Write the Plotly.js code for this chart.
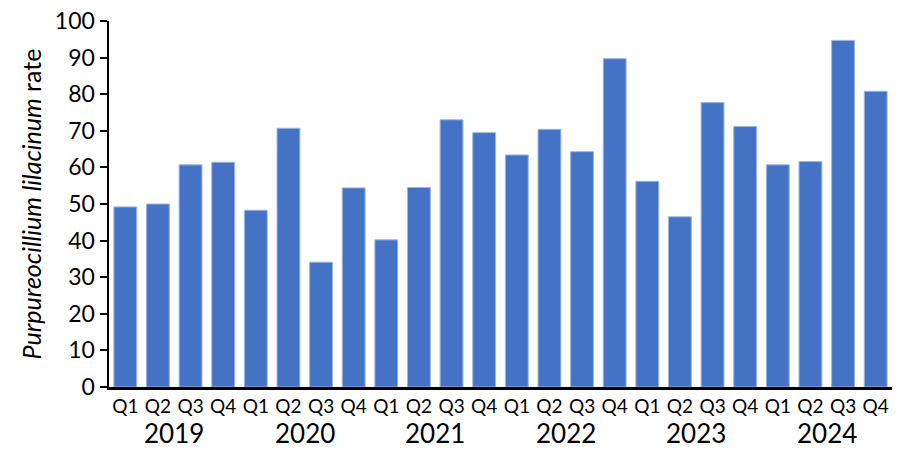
<!DOCTYPE html>
<html>
<head>
<meta charset="utf-8">
<script src="https://cdn.plot.ly/plotly-3.0.1.min.js"></script>
<style>
  html, body { margin: 0; padding: 0; background: #fff; }
  #chart { width: 900px; height: 455px; }
</style>
</head>
<body>
<div id="chart"></div>
<script>
var years = ['2019', '2020', '2021', '2022', '2023', '2024'];
var quarters = ['Q1', 'Q2', 'Q3', 'Q4'];
var rates = [
  49.2, 50.0, 60.7, 61.4,
  48.3, 70.7, 34.1, 54.4,
  40.2, 54.5, 73.0, 69.5,
  63.4, 70.4, 64.3, 89.7,
  56.2, 46.5, 77.7, 71.2,
  60.7, 61.6, 94.7, 80.8
];

var xIdx = rates.map(function (v, i) { return i; });
var qLabels = xIdx.map(function (i) { return quarters[i % 4]; });

var trace = {
  x: xIdx,
  y: rates,
  type: 'bar',
  hoverinfo: 'none',
  marker: {
    color: '#4472C4',
    line: { color: '#9db5e0', width: 1 }
  }
};

// year labels centred under each group of four quarters
var yearNotes = years.map(function (yr, i) {
  return {
    x: i * 4 + 1.5,
    y: -0.125,
    xref: 'x',
    yref: 'paper',
    text: yr,
    showarrow: false,
    yanchor: 'middle',
    font: { size: 26, color: '#000' }
  };
});

var layout = {
  width: 900,
  height: 455,
  margin: { t: 21, b: 68, l: 109, r: 8 },
  paper_bgcolor: '#fff',
  plot_bgcolor: '#fff',
  font: { family: 'Lato, Open Sans, sans-serif', color: '#000' },
  showlegend: false,
  bargap: 0.3,
  xaxis: {
    range: [-0.5, 23.5],
    tickvals: xIdx,
    ticktext: qLabels,
    tickfont: { size: 19 },
    ticks: '',
    showgrid: false,
    zeroline: false,
    showline: true,
    linecolor: '#000',
    linewidth: 3,
    fixedrange: true
  },
  yaxis: {
    range: [0, 100],
    dtick: 10,
    tickfont: { size: 23 },
    ticks: 'outside',
    ticklen: 7,
    tickwidth: 2,
    tickcolor: '#000',
    showgrid: false,
    zeroline: false,
    showline: true,
    linecolor: '#000',
    linewidth: 2.5,
    title: {
      text: '<i>Purpureocillium lilacinum</i> rate',
      font: { size: 25 },
      standoff: 6
    },
    fixedrange: true
  },
  annotations: yearNotes
};

Plotly.newPlot('chart', [trace], layout, { displayModeBar: false, staticPlot: true });
</script>
</body>
</html>
